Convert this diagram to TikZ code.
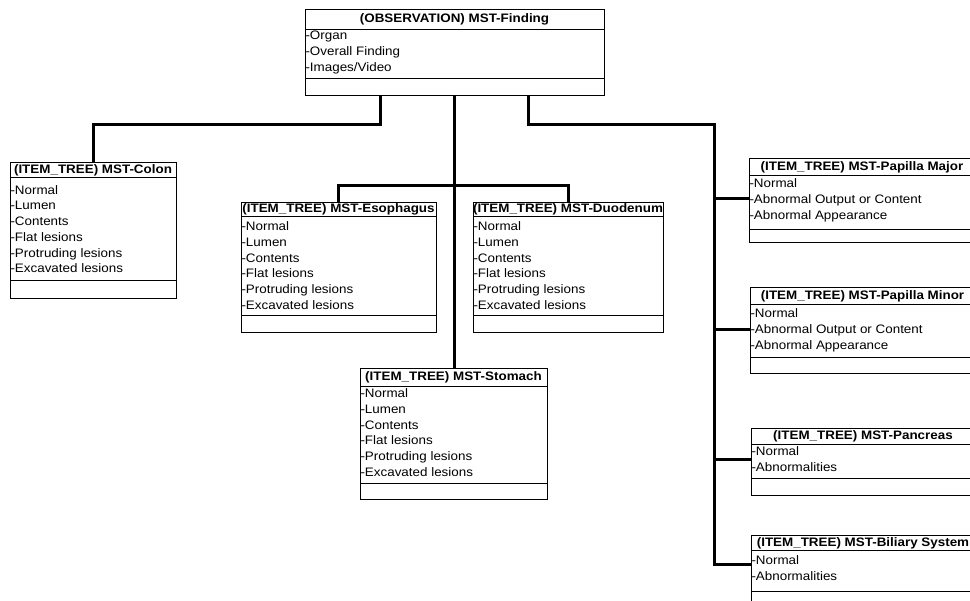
\documentclass[tikz,border=0pt]{standalone}
\usepackage{fontspec}
\setmainfont{Liberation Sans}[FakeStretch=1.09]
% one class box: name, left, right, top, title rule, lower rule, bottom, title
\newcommand\classbox[8]{%
  \node[classframe, anchor=north west, minimum width=#3pt-#2pt, minimum height=#7pt-#4pt] (#1) at (#2,#4) {};
  \draw[classline] (#2,#5) -- (#3,#5);
  \draw[classline] (#2,#6) -- (#3,#6);
  \node[classtitle] (#1-title) at ({(#2+#3)/2},{(#4+#5)/2+0.5}) {#8};
}
% attribute lines: name, left, centre of first line, list
\newcommand\classitems[4]{%
  \foreach \attr [count=\k] in {#4}
    \node[classitem] (#1-item\k) at (#2+0.3,{#3+15.75*(\k-1)}) {-\attr};
}
\begin{document}
\begin{tikzpicture}[x=1pt,y=-1pt,
  classframe/.style={draw=black, line width=0.9pt, rectangle, inner sep=0pt, outer sep=0pt, fill=white},
  classline/.style={draw=black, line width=0.9pt},
  classtitle/.style={font=\bfseries\fontsize{12.3}{14}\selectfont, inner sep=0pt},
  classitem/.style={font=\fontsize{12.3}{14}\selectfont, inner sep=0pt, text height=8.8pt, text depth=2.6pt, anchor=west},
  link/.style={draw=black, line width=3pt, line join=miter}]
\useasboundingbox (0,0) rectangle (970,601);
\clip (0,0) rectangle (970,601);

\classbox{finding}{305}{604}{9}{29}{78}{95}{(OBSERVATION) MST-Finding}
\classitems{finding}{305}{36.5}{Organ,Overall Finding,Images/Video}

\classbox{colon}{10}{176}{162}{177}{280}{298}{(ITEM\_TREE) MST-Colon}
\classitems{colon}{10}{191}{Normal,Lumen,Contents,Flat lesions,Protruding lesions,Excavated lesions}

\classbox{esoph}{241}{436}{202}{216}{315}{332}{(ITEM\_TREE) MST-Esophagus}
\classitems{esoph}{241}{227.5}{Normal,Lumen,Contents,Flat lesions,Protruding lesions,Excavated lesions}

\classbox{duod}{473}{663}{202}{216}{315}{332}{(ITEM\_TREE) MST-Duodenum}
\classitems{duod}{473}{227.5}{Normal,Lumen,Contents,Flat lesions,Protruding lesions,Excavated lesions}

\classbox{stomach}{360}{547}{368}{386}{483}{499}{(ITEM\_TREE) MST-Stomach}
\classitems{stomach}{360}{394.5}{Normal,Lumen,Contents,Flat lesions,Protruding lesions,Excavated lesions}

\classbox{pmaj}{749}{975}{158}{175}{229}{242}{(ITEM\_TREE) MST-Papilla Major}
\classitems{pmaj}{749}{184.5}{Normal,Abnormal Output or Content,Abnormal Appearance}

\classbox{pmin}{750}{975}{287}{304}{357}{373}{(ITEM\_TREE) MST-Papilla Minor}
\classitems{pmin}{750}{314.5}{Normal,Abnormal Output or Content,Abnormal Appearance}

\classbox{panc}{751}{975}{428}{444}{478}{495}{(ITEM\_TREE) MST-Pancreas}
\classitems{panc}{751}{452.5}{Normal,Abnormalities}

\classbox{bil}{751}{975}{535}{550}{591}{612}{(ITEM\_TREE) MST-Biliary System}
\classitems{bil}{751}{561.5}{Normal,Abnormalities}

% connectors
\coordinate (lbend) at (380,125);
\coordinate (rbend) at (528,125);
\coordinate (bus) at (455,186);
\coordinate (railend) at (714,565);

\draw[link] (finding.south -| lbend) -- (lbend) -| (colon.north);
\draw[link] (finding.south) -- (finding.south |- stomach.north);
\draw[link] (esoph.north) |- (bus) -| (duod.north);
\draw[link] (finding.south -| rbend) -- (rbend) -| (railend) -- (bil.west |- railend);
\draw[link] (railend |- 0,199) -- (pmaj.west |- 0,199);
\draw[link] (railend |- 0,330) -- (pmin.west |- 0,330);
\draw[link] (railend |- 0,460) -- (panc.west |- 0,460);
\end{tikzpicture}
\end{document}
